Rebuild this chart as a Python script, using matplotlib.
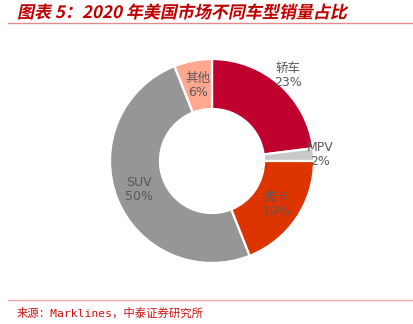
import matplotlib
matplotlib.use("Agg")
import matplotlib.pyplot as plt
import numpy as np
from matplotlib.textpath import TextPath
from matplotlib.patches import PathPatch
from matplotlib.font_manager import FontProperties
from matplotlib.transforms import Affine2D, IdentityTransform

plt.rcParams['font.family'] = ['Noto Sans CJK SC', 'DejaVu Sans']

# 2020 US sales share by vehicle type (%)
labels = ["轿车", "MPV", "皮卡", "SUV", "其他"]
shares = [23, 2, 19, 50, 6]
colors = ["#C0002F", "#C8C8C8", "#DC3500", "#969696", "#FFA88F"]
label_dist = [1.12, 1.06, 0.76, 0.77, 0.75]

W, H = 414, 324
fig = plt.figure(figsize=(W / 100, H / 100), dpi=100)
fig.patch.set_facecolor("white")

# donut axes: centre (212, 161) px, radius 102 px
cx, cy, r = 212, 161, 102
ax = fig.add_axes([(cx - r) / W, (H - cy - r) / H, 2 * r / W, 2 * r / H])
wedges, _ = ax.pie(shares, colors=colors, startangle=90, counterclock=False,
                   radius=1, wedgeprops=dict(width=0.49, edgecolor="white", linewidth=1.6))
ax.set_xlim(-1, 1)
ax.set_ylim(-1, 1)
ax.set_aspect("equal")
ax.axis("off")

for w, lab, val, d in zip(wedges, labels, shares, label_dist):
    ang = np.deg2rad((w.theta1 + w.theta2) / 2)
    ax.text(d * np.cos(ang), d * np.sin(ang), f"{lab}\n{val}%", ha="center", va="center",
            fontsize=9, color="#595959", linespacing=1.1,
            family=["DejaVu Sans", "Noto Sans CJK SC"])

# slanted bold title drawn as a path
fp = FontProperties(family="Noto Sans CJK SC", weight="bold")
tp = TextPath((0, 0), "图表 5：2020 年美国市场不同车型销量占比", size=17, prop=fp)
tr = Affine2D().skew_deg(12, 0).translate(17, H - 18) + IdentityTransform()
fig.add_artist(PathPatch(tp, transform=tr, facecolor="#C00000", edgecolor="none"))

# rules under the title and above the source line
fig.add_artist(plt.Line2D([8 / W, 413 / W], [1 - 22.5 / H, 1 - 22.5 / H],
                          transform=fig.transFigure, color="#E48A8A", linewidth=1.0))
fig.add_artist(plt.Line2D([8 / W, 413 / W], [1 - 300 / H, 1 - 300 / H],
                          transform=fig.transFigure, color="#F2A8A8", linewidth=1.0))

fig.text(17 / W, 1 - 313 / H, "来源：Marklines，中泰证券研究所", ha="left", va="center",
         fontsize=8.2, color="#D01010", family=["DejaVu Sans Mono", "Noto Sans CJK SC"])

fig.savefig("out.png", dpi=100)
